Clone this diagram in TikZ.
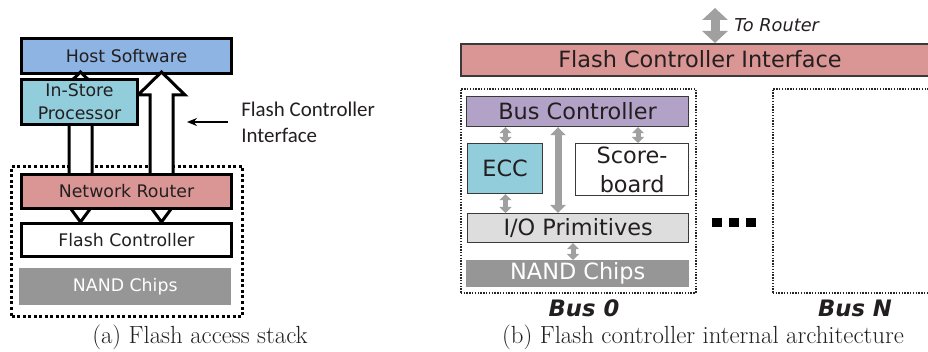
\documentclass[tikz,border=0pt]{standalone}
\usepackage{fontspec}
\usetikzlibrary{calc,arrows.meta}
\newfontfamily\boxfont{DejaVu Sans}
\newfontfamily\notefont{Carlito}

\definecolor{hostblue}{HTML}{8DB4E2}
\definecolor{procteal}{HTML}{92CDDC}
\definecolor{routerred}{HTML}{D99694}
\definecolor{buspurple}{HTML}{B3A2C7}
\definecolor{iogray}{HTML}{DDDDDD}
\definecolor{nandgray}{HTML}{969696}
\definecolor{arrowgray}{HTML}{A0A0A0}
\definecolor{inkdark}{HTML}{231F20}
\definecolor{edgedark}{HTML}{3A3A3A}

\tikzset{
  % left stack: heavy outlined blocks
  stackbox/.style={draw=black, line width=2.25pt, anchor=north west, inner sep=0pt,
    font=\boxfont\fontsize{13}{15}\selectfont, text=inkdark},
  % right architecture: thin outlined blocks
  archbox/.style={draw=edgedark, line width=0.9pt, anchor=north west, inner sep=0pt,
    font=\boxfont\fontsize{16.8}{19}\selectfont, text=inkdark},
  nandbox/.style={fill=nandgray, anchor=north west, inner sep=0pt, text=white},
  heavydots/.style={draw=black, line width=2.25pt, dash pattern=on 2.25pt off 1.9pt},
  lightdots/.style={draw=black!85, line width=1.2pt, dash pattern=on 1.05pt off 1.05pt},
  blockarr/.style={draw=black, fill=white, line width=2.25pt, line join=miter},
  bigdbl/.style={draw=arrowgray, line width=6.75pt,
    {Triangle[width=18.75pt,length=9pt]}-{Triangle[width=18.75pt,length=9pt]}},
  longdbl/.style={draw=arrowgray, line width=5.25pt,
    {Triangle[width=11.25pt,length=6pt]}-{Triangle[width=11.25pt,length=6pt]}},
  smalldbl/.style={draw=arrowgray, line width=3.75pt,
    {Triangle[width=9pt,length=4.5pt]}-{Triangle[width=9pt,length=4.5pt]}},
  buslabel/.style={font=\boxfont\bfseries\itshape\fontsize{17}{19}\selectfont, text=inkdark, anchor=base},
  caption/.style={font=\fontsize{18.6}{22}\selectfont, text=inkdark, anchor=base},
}

% hollow block arrow pointing up: #1 tip, #2 node whose top edge is the tail
\newcommand\hollowup[2]{%
  \draw[blockarr] ($(#1 |- #2.north)+(-11.5,0)$) -- ($(#1)+(-11.5,23)$)
    -- ($(#1)+(-23.5,23)$) -- (#1) -- ($(#1)+(23.5,23)$)
    -- ($(#1)+(11.5,23)$) -- ($(#1 |- #2.north)+(11.5,0)$);}
% hollow head pointing down: #1 tip
\newcommand\hollowdown[1]{%
  \draw[blockarr] ($(#1)+(-12.5,-17)$) -- (#1) -- ($(#1)+(12.5,-17)$) -- cycle;}

\begin{document}
\begin{tikzpicture}[x=0.75pt, y=-0.75pt]
\path[use as bounding box, clip] (0,0) rectangle (928,352);

% ---------------- (a) flash access stack ----------------
\node[stackbox, fill=hostblue, minimum width=157.5pt, minimum height=26.25pt] (host) at (20,37) {Host Software};

\node[heavydots, anchor=north west, inner sep=0pt, minimum width=173.25pt, minimum height=112.5pt] (stack) at (10,165) {};

\coordinate (tipL) at (80.5,72);
\coordinate (tipR) at (161.5,72);
\coordinate (vL) at (80.5,222);
\coordinate (vR) at (161.5,222);

\node[stackbox, fill=white, minimum width=157.5pt, minimum height=24.75pt] (fc) at (20,222) {Flash Controller};
\hollowdown{vL}
\hollowdown{vR}
\node[stackbox, fill=routerred, minimum width=157.5pt, minimum height=25.5pt] (router) at (20,173) {Network Router};

\hollowup{tipL}{router}
\hollowup{tipR}{router}

\node[stackbox, fill=procteal, minimum width=87pt, minimum height=33.75pt, align=center,
  font=\boxfont\fontsize{13}{17}\selectfont] (isp) at (20,78) {In-Store\\Processor};

\node[nandbox, minimum width=159pt, minimum height=27.75pt, font=\boxfont\fontsize{13}{15}\selectfont] (nand) at (19,268) {NAND Chips};

\node[font=\notefont\fontsize{15.7}{19.5}\selectfont, text=inkdark, align=left, anchor=north west, inner sep=0pt] (fcilabel) at (241,102) {Flash Controller\\Interface};
\coordinate (fcitail) at (228,122);
\coordinate (fcihead) at (187,122);
\draw[line width=1.1pt, -{Stealth[length=7.5pt,width=6pt]}] (fcitail) -- (fcihead);

\node[caption] (capa) at (200,344) {(a) Flash access stack};

% ---------------- (b) flash controller internals ----------------
\node[archbox, fill=routerred, minimum width=360pt, minimum height=24pt, line width=1.2pt] (fci) at (460,43) {};
\node[font=\boxfont\fontsize{16.8}{19}\selectfont, text=inkdark] (fcitext) at (700,59) {Flash Controller Interface};

\coordinate (rtr) at (715,8);
\draw[bigdbl] (rtr) -- (rtr |- fci.north);
\node[font=\boxfont\itshape\fontsize{13.3}{15}\selectfont, text=inkdark, anchor=base west, inner sep=0pt] (tortr) at (734,32) {To Router};

\node[lightdots, anchor=north west, inner sep=0pt, minimum width=176.25pt, minimum height=153pt] (bus0) at (460,88) {};
\node[lightdots, anchor=north west, inner sep=0pt, minimum width=150pt, minimum height=153pt] (busN) at (772,88) {};

\node[archbox, fill=buspurple, minimum width=166.5pt, minimum height=22.5pt] (bc) at (466,96) {Bus Controller};
\node[archbox, fill=procteal, minimum width=56.25pt, minimum height=37.5pt] (ecc) at (467,143) {ECC};
\node[archbox, fill=white, minimum width=84.75pt, minimum height=39pt, align=center,
  font=\boxfont\fontsize{16.8}{22}\selectfont] (sb) at (575,143) {Score-\\board};
\node[archbox, fill=iogray, minimum width=165.75pt, minimum height=21.75pt] (io) at (467,213) {I/O Primitives};
\node[nandbox, minimum width=167.25pt, minimum height=20.25pt, font=\boxfont\fontsize{16.8}{19}\selectfont] (nand2) at (466,260) {NAND Chips};

\coordinate (xecc) at (505.5,0);
\coordinate (xsb) at (638,0);
\coordinate (xlong) at (558,0);
\coordinate (xnand) at (573,0);
\draw[smalldbl] (xecc |- bc.south) -- (xecc |- ecc.north);
\draw[smalldbl] (xsb |- bc.south) -- (xsb |- sb.north);
\draw[smalldbl] (xecc |- ecc.south) -- (xecc |- io.north);
\draw[longdbl] (xlong |- bc.south) -- (xlong |- io.north);
\draw[smalldbl] (xnand |- io.south) -- (xnand |- nand2.north);

% ellipsis between the buses
\fill[black] (712,218) rectangle (722,227);
\fill[black] (729,218) rectangle (739,227);
\fill[black] (746,218) rectangle (756,227);

\node[buslabel] (lb0) at (584,317) {Bus 0};
\node[buslabel] (lbN) at (855,317) {Bus N};

\node[caption] (capb) at (703,344) {(b) Flash controller internal architecture};
\end{tikzpicture}
\end{document}
